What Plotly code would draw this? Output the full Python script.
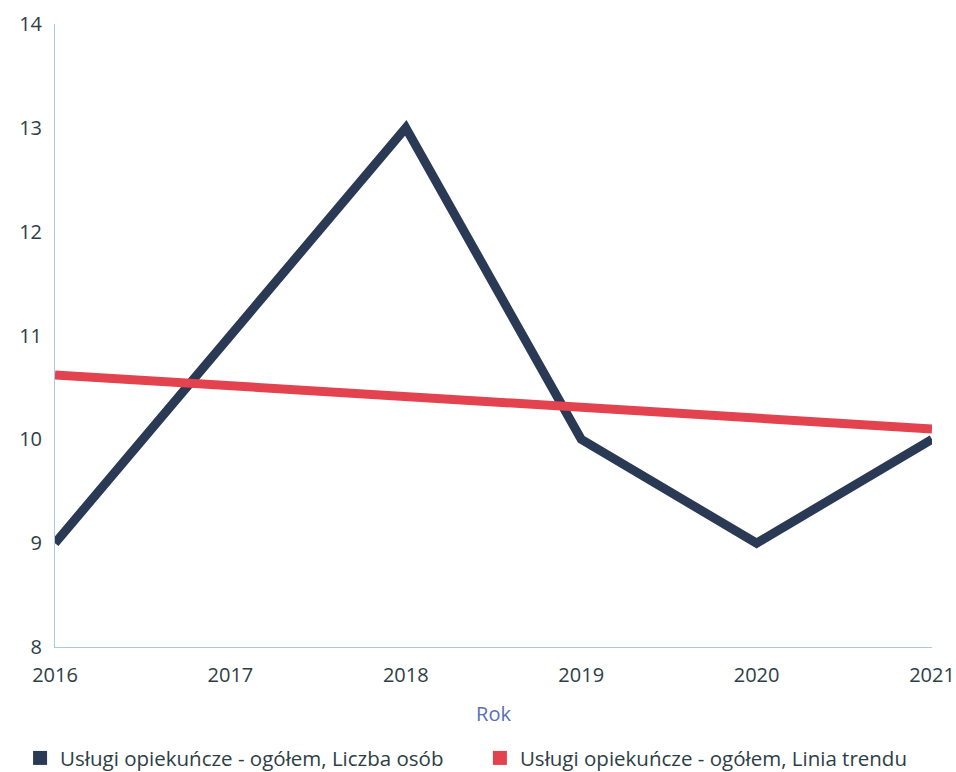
import plotly.graph_objects as go

years = [2016, 2017, 2018, 2019, 2020, 2021]
liczba_osob = [9, 11, 13, 10, 9, 10]
linia_trendu = [10.62, 10.52, 10.42, 10.32, 10.21, 10.1]

name1 = "Usługi opiekuńcze - ogółem, Liczba osób"
name2 = "Usługi opiekuńcze - ogółem, Linia trendu"
c1 = "#2a3a55"
c2 = "#e2434f"

fig = go.Figure()
fig.add_trace(go.Scatter(x=years, y=liczba_osob, mode="lines", name=name1,
                         line=dict(color=c1, width=9), showlegend=False))
fig.add_trace(go.Scatter(x=years, y=linia_trendu, mode="lines", name=name2,
                         line=dict(color=c2, width=9), showlegend=False))
# legend entries with square swatches (one legend each, placed side by side)
fig.add_trace(go.Scatter(x=[None], y=[None], mode="markers", name=name1,
                         marker=dict(color=c1, symbol="square", size=14),
                         legend="legend"))
fig.add_trace(go.Scatter(x=[None], y=[None], mode="markers", name=name2,
                         marker=dict(color=c2, symbol="square", size=14),
                         legend="legend2"))

leg_common = dict(orientation="h", xref="container", yref="container",
                  xanchor="left", y=0.018, yanchor="middle",
                  font=dict(size=20.5), itemwidth=30)

fig.update_layout(
    width=956, height=772,
    margin=dict(l=55, r=24, t=24, b=125),
    paper_bgcolor="white", plot_bgcolor="white",
    font=dict(family="Open Sans", size=20, color="#2d3e45"),
    xaxis=dict(range=[2016, 2021], tickvals=years, ticktext=[str(y) for y in years],
               showgrid=False, zeroline=False, showline=True, linecolor="#a9c9ea",
               linewidth=1, ticks="", ticklabelstandoff=10, automargin=False,
               ticklabeloverflow="allow",
               title=dict(text="Rok", font=dict(color="#5a6fb5", size=20), standoff=19)),
    yaxis=dict(range=[8, 14], dtick=1, showgrid=False, zeroline=False,
               showline=True, linecolor="#a9c9ea", linewidth=1, ticks="",
               ticklabelstandoff=8, automargin=False),
    legend=dict(x=0.021, **leg_common),
    legend2=dict(x=0.502, **leg_common),
    showlegend=True,
)

fig.write_html("out.html", config={"displayModeBar": False},
               post_script="document.body.style.margin='0';")
